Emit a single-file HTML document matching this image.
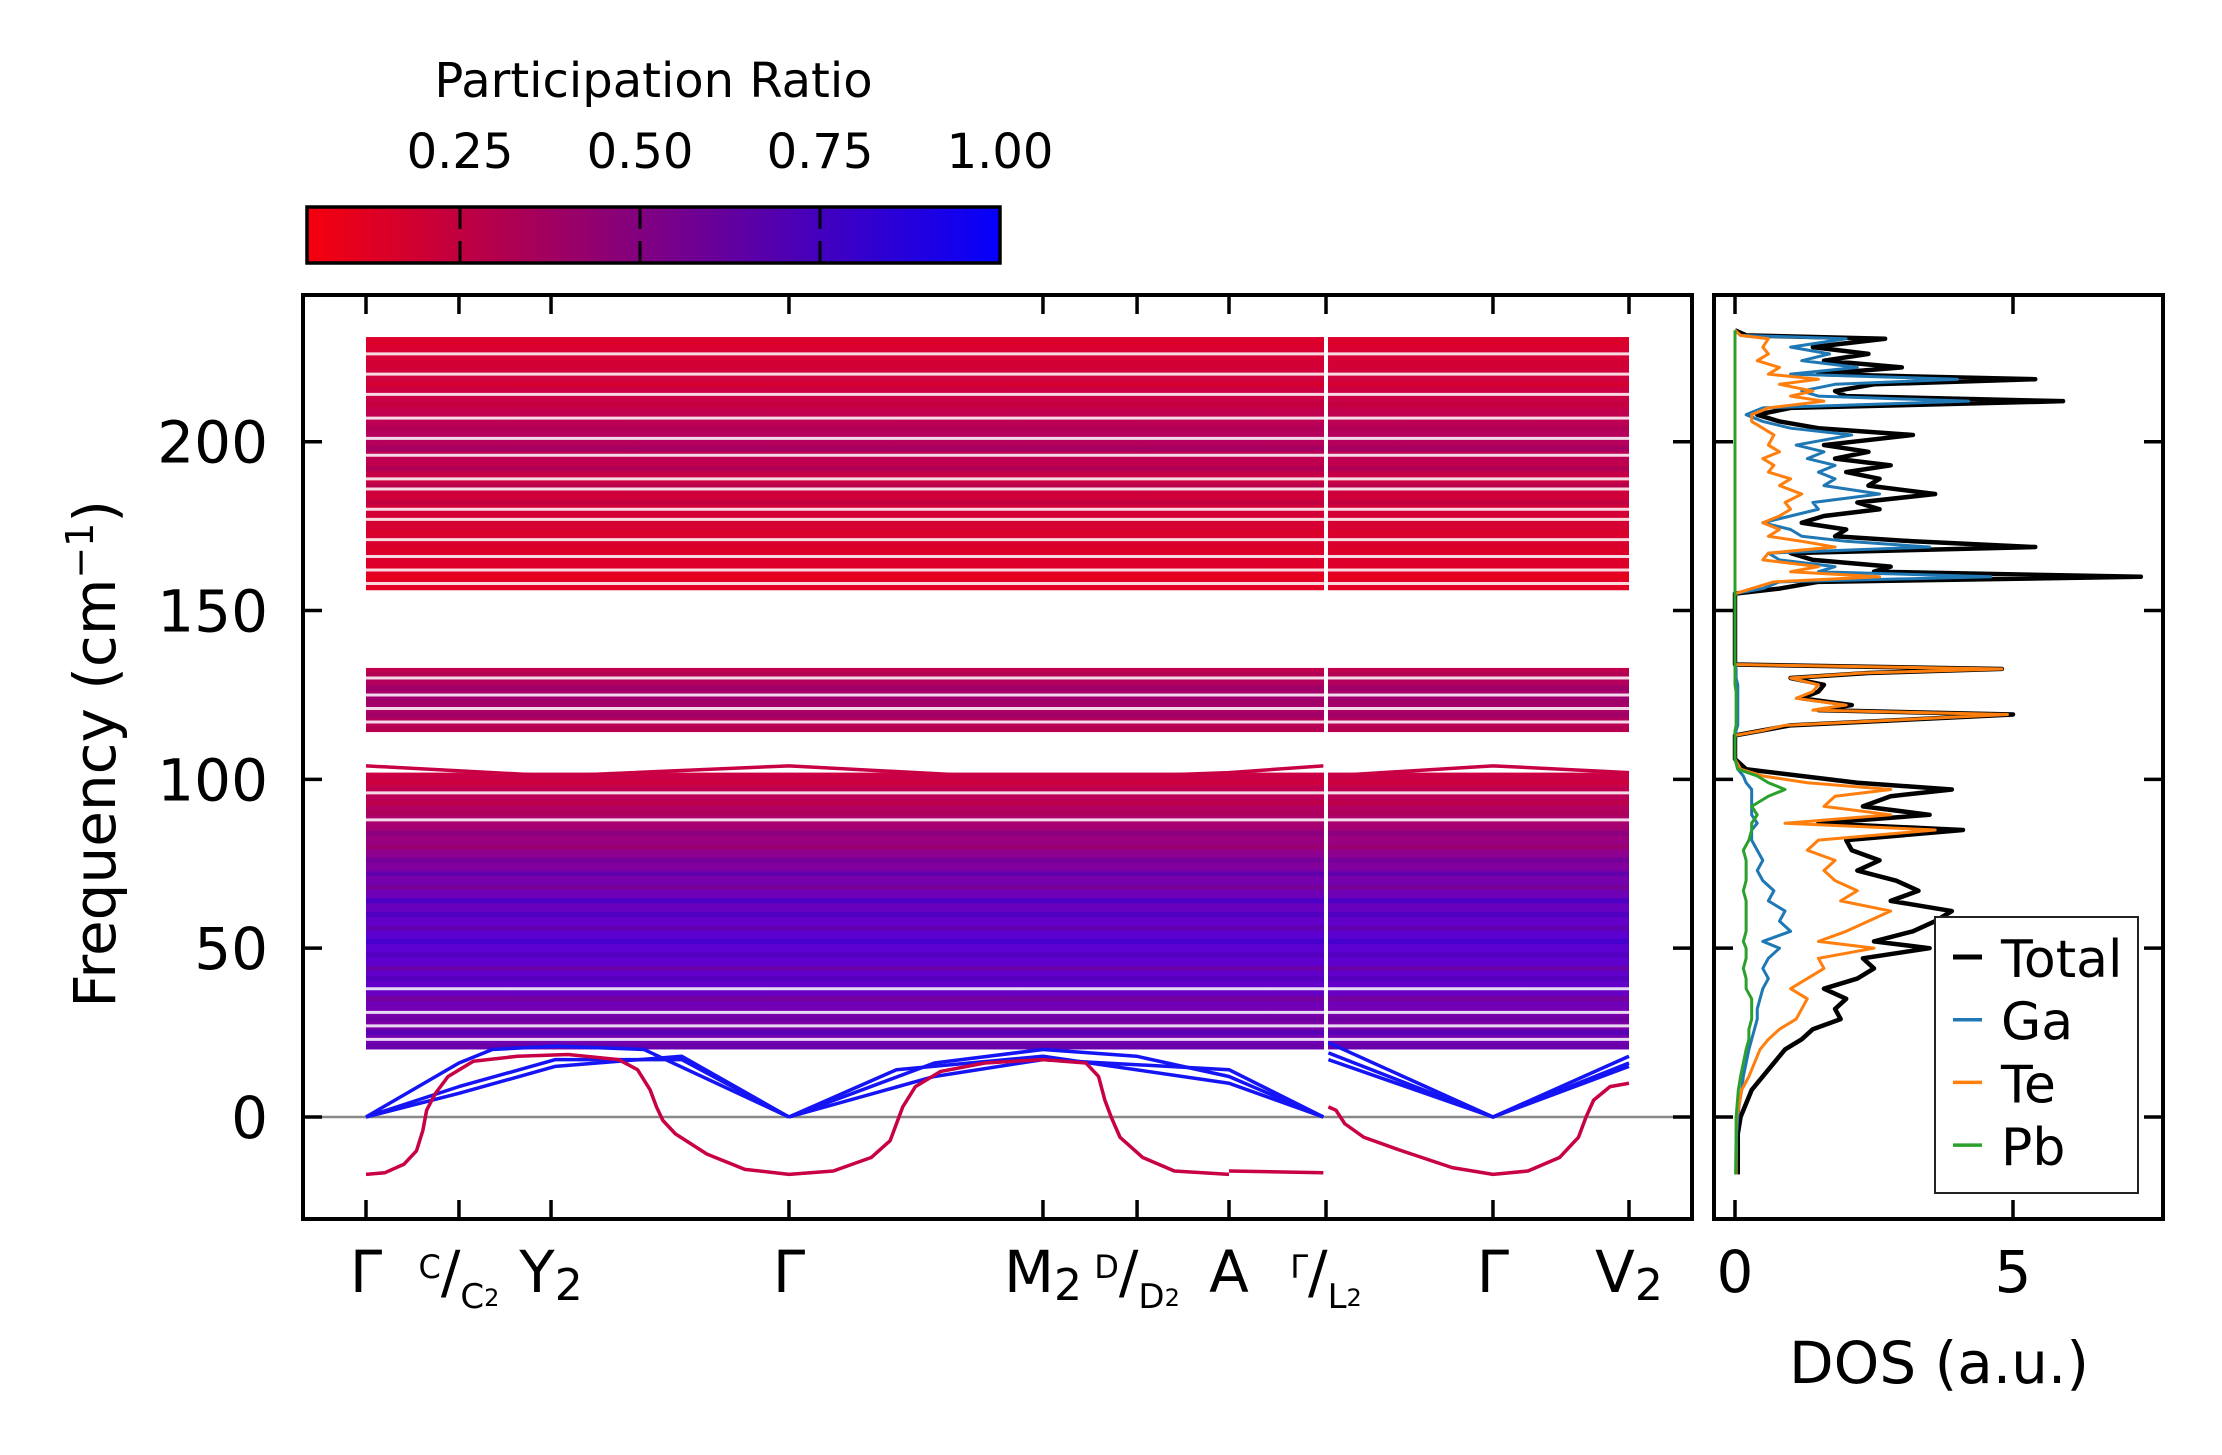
<!DOCTYPE html>
<html><head><meta charset="utf-8"><style>
body{margin:0;background:#fff}
svg{display:block;font-family:"DejaVu Sans","Liberation Sans",sans-serif}
</style></head><body>
<svg id="fig" width="2222" height="1455" viewBox="0 0 2222 1455" xmlns="http://www.w3.org/2000/svg">
<defs>
<linearGradient id="cmap" x1="0" x2="1" y1="0" y2="0"><stop offset="0" stop-color="rgb(245,0,12)"/><stop offset="1" stop-color="rgb(5,0,252)"/></linearGradient>
<linearGradient id="g1" x1="0" x2="0" y1="0" y2="1"><stop offset="0" stop-color="rgb(220,0,45)"/><stop offset="0.25" stop-color="rgb(200,0,70)"/><stop offset="0.4" stop-color="rgb(180,0,95)"/><stop offset="0.6" stop-color="rgb(205,0,60)"/><stop offset="1" stop-color="rgb(228,0,35)"/></linearGradient>
<linearGradient id="g2" x1="0" x2="0" y1="0" y2="1"><stop offset="0" stop-color="rgb(195,0,75)"/><stop offset="0.5" stop-color="rgb(160,0,115)"/><stop offset="1" stop-color="rgb(195,0,75)"/></linearGradient>
<linearGradient id="g3" x1="0" x2="0" y1="0" y2="1"><stop offset="0" stop-color="rgb(205,0,65)"/><stop offset="0.2" stop-color="rgb(165,0,115)"/><stop offset="0.4" stop-color="rgb(115,0,175)"/><stop offset="0.6" stop-color="rgb(90,0,210)"/><stop offset="0.78" stop-color="rgb(100,0,200)"/><stop offset="0.9" stop-color="rgb(125,0,165)"/><stop offset="1" stop-color="rgb(110,0,185)"/></linearGradient>
</defs>
<g id="bands"></g>
<g id="dos"></g>
<g id="axes"></g>
</svg>
<script>
const NS="http://www.w3.org/2000/svg";
// ---- data ----
const kLabels=["Γ","C/C2","Y2","Γ","M2","D/D2","A","Γ/L2","Γ","V2"];
const kTicks=[0,0.0736,0.1465,0.3349,0.536,0.6105,0.6833,0.7601,0.8923,1.0];
const yTicks=[0,50,100,150,200];
const blockLo=[156,114,20];
const blockHi=[231,133,102];
const gapLines=[226,220,214,207,201,196,189,186,180,177,171,166,162,158,130,125,121,117,96,88,38,31,27,23];
const stripeFreq=[229,223,217,211,204,198,192,187,182,173,168,160,131,127,123,119,115,99,93,90,84,80,76,72,68,64,60,56,52,48,44,41,35,29,25,21];
const stripePR=[0.1,0.15,0.1,0.2,0.3,0.4,0.35,0.3,0.25,0.1,0.1,0.05,0.3,0.4,0.35,0.4,0.3,0.15,0.2,0.3,0.5,0.35,0.6,0.7,0.5,0.8,0.75,0.6,0.8,0.7,0.55,0.7,0.5,0.6,0.75,0.6];
const softMode1=[[0,-17],[0.015,-16.5],[0.03,-14],[0.04,-10],[0.045,-4],[0.048,2],[0.055,7],[0.065,12],[0.085,16.5],[0.12,18],[0.16,18.5],[0.2,17],[0.215,14],[0.225,8],[0.23,3],[0.235,-1],[0.245,-5],[0.27,-11],[0.3,-15.5],[0.3349,-17],[0.37,-16],[0.4,-12],[0.415,-7],[0.42,-2],[0.425,3],[0.435,9],[0.455,13.5],[0.49,16],[0.536,17],[0.57,16],[0.58,12],[0.585,5],[0.59,0],[0.597,-6],[0.615,-12],[0.64,-16],[0.6833,-17]];
const softMode2=[[0.6833,-16],[0.758,-16.5]];
const softMode3=[[0.762,3],[0.768,2],[0.775,-2],[0.79,-6],[0.82,-10],[0.86,-15],[0.8923,-17],[0.92,-16],[0.945,-12],[0.96,-6],[0.966,0],[0.972,5],[0.985,9],[1,10]];
const topMode=[[0,104],[0.15,101],[0.3349,104],[0.536,100],[0.6833,102],[0.758,104]];
const topMode2=[[0.762,101],[0.8923,104],[1,102]];
const acoustic=[
 [[0,0],[0.0736,16],[0.1,20],[0.15,21],[0.22,20],[0.3349,0]],
 [[0,0],[0.0736,9],[0.15,17],[0.25,17],[0.3349,0]],
 [[0,0],[0.0736,7],[0.15,15],[0.25,18],[0.3349,0]],
 [[0.3349,0],[0.45,16],[0.536,20],[0.61,18],[0.6833,12],[0.758,0]],
 [[0.3349,0],[0.42,14],[0.536,18],[0.6833,10],[0.758,0]],
 [[0.3349,0],[0.45,12],[0.536,17],[0.6833,14],[0.758,0]],
 [[0.762,22],[0.8923,0],[1,18]],
 [[0.762,19],[0.8923,0],[1,15]],
 [[0.762,17],[0.8923,0],[1,16]]];
const dosFreq=[-17,-5,0,4,8,12,16,20,23,26,29,32,35,38,41,44,47,50,52,55,58,61,64,67,70,73,76,79,82,85,87,89.5,92,95,97,99,101,103,106,113,114.5,116,119.2,120.5,122,124,126,128,130,131.5,132.7,134,155,156.5,158.5,160,161.5,163,165,167,168.8,170.5,172,174,176,178,180,182,184.5,187,189,191,193,195,197,199,202,204,206,208,210,212,213.5,215,217,218.5,220,222,224,226,228,230.5,231.5,233];
const dosTotal=[0.05,0.05,0.1,0.2,0.3,0.5,0.7,0.9,1.2,1.4,1.9,1.8,2.0,1.6,2.2,2.5,2.3,3.5,2.5,3.2,3.6,3.9,2.8,3.3,2.9,2.2,2.6,2.1,2.0,4.1,1.5,3.5,2.3,2.8,3.9,2.2,1.2,0.2,0,0,0.5,1.0,5.0,1.5,2.1,1.2,1.5,1.6,1.0,2.4,4.8,0,0,0.8,1.5,7.3,2.5,2.8,1.4,1.0,5.4,3.2,1.8,2.0,1.2,1.6,2.6,2.2,3.6,2.4,2.6,2.0,2.8,1.8,2.4,1.6,3.2,1.5,0.8,0.4,1.0,5.9,2.0,1.8,2.5,5.4,1.5,3.0,1.6,2.4,1.4,2.7,0.2,0];
const dosGa=[0.02,0.03,0.05,0.08,0.12,0.15,0.2,0.25,0.3,0.35,0.4,0.4,0.45,0.5,0.6,0.5,0.6,0.8,0.5,1.0,0.8,0.9,0.6,0.7,0.5,0.4,0.5,0.4,0.3,0.3,0.4,0.3,0.3,0.3,0.3,0.2,0.15,0.05,0,0,0.02,0.05,0.05,0.05,0.05,0.05,0.05,0.05,0.02,0.02,0.02,0,0,0.5,0.8,4.6,1.5,1.8,0.8,0.6,3.5,2.0,1.2,1.0,0.5,1.0,1.5,1.4,2.6,1.6,1.8,1.5,1.8,1.3,1.6,1.1,2.1,1.0,0.5,0.2,0.5,4.2,1.5,1.2,1.8,4.0,1.0,2.2,1.2,1.7,1.0,2.0,0.1,0];
const dosTe=[0.02,0.02,0.03,0.08,0.12,0.25,0.35,0.45,0.6,0.8,1.1,1.2,1.3,1.0,1.3,1.6,1.5,2.5,1.5,2.0,2.4,2.8,1.9,2.2,1.8,1.6,1.8,1.3,1.5,3.6,0.9,2.8,1.6,1.8,2.8,1.3,0.5,0.1,0,0,0.5,0.9,4.9,1.4,2.0,1.1,1.4,1.5,1.0,2.3,4.8,0,0,0.3,0.7,2.6,1.0,1.5,0.5,0.6,1.8,1.2,0.6,0.8,0.5,0.8,1.0,0.9,1.2,0.8,1.0,0.6,0.7,0.5,0.8,0.6,0.7,0.5,0.3,0.3,0.6,1.6,1.0,1.4,0.8,1.5,0.6,0.8,0.4,0.6,0.5,0.6,0.1,0];
const dosPb=[0.01,0.02,0.02,0.04,0.06,0.1,0.15,0.2,0.25,0.25,0.3,0.3,0.3,0.2,0.2,0.15,0.2,0.2,0.15,0.2,0.2,0.2,0.2,0.15,0.2,0.2,0.2,0.15,0.25,0.3,0.3,0.4,0.3,0.6,0.9,0.6,0.4,0.05,0,0,0,0.02,0.02,0.02,0.02,0.02,0.02,0,0,0,0,0,0,0,0,0,0,0,0,0,0,0,0,0,0,0,0,0,0,0,0,0,0,0,0,0,0,0,0,0,0,0,0,0,0,0,0,0,0,0,0,0,0,0];
const legendNames=["Total","Ga","Te","Pb"];
const cbTicks=[0.25,0.5,0.75,1.0];
// ---- scales ----
const X=k=>366+k*1263, Y=f=>1117-f*3.3765, DX=d=>1735+d*55.6, CB=v=>460+(v-0.25)*720;
const prColor=v=>`rgb(${Math.round(245-240*v)},0,${Math.round(12+240*v)})`;
function el(tag,attrs,parent){const e=document.createElementNS(NS,tag);for(const a in attrs)e.setAttribute(a,attrs[a]);parent.appendChild(e);return e;}
const bands=document.getElementById('bands'),dos=document.getElementById('dos'),axes=document.getElementById('axes');
const grads=['url(#g1)','url(#g2)','url(#g3)'];
blockLo.forEach((lo,i)=>{const r=el('rect',{x:X(0),y:Y(blockHi[i]),width:X(1)-X(0),height:Y(lo)-Y(blockHi[i]),fill:grads[i]},bands);

});
stripeFreq.forEach((f,i)=>{const l=el('line',{x1:X(0),x2:X(1),y1:Y(f),y2:Y(f),stroke:prColor(stripePR[i]),'stroke-width':5,opacity:0.55},bands);

});
gapLines.forEach(f=>{const l=el('line',{x1:X(0),x2:X(1),y1:Y(f),y2:Y(f),stroke:'#fff','stroke-width':3,opacity:0.85},bands);

});
const br=el('rect',{x:X(0.7601)-2,y:Y(235),width:4,height:Y(-20)-Y(235),fill:'#fff'},bands);


const zl=el('line',{x1:303,x2:1692,y1:Y(0),y2:Y(0),stroke:'#888','stroke-width':2.5},bands);


function poly(pts,xf,yf,color,w,parent,name){const p=el('polyline',{points:pts.map(p=>xf(p[0])+','+yf(p[1])).join(' '),fill:'none',stroke:color,'stroke-width':w,'stroke-linejoin':'round'},parent);

return p;}
acoustic.forEach(a=>poly(a,X,Y,'rgb(20,20,245)',3.5,bands,'acoustic-branch'));
[softMode1,softMode2,softMode3].forEach(s=>poly(s,X,Y,'rgb(200,0,70)',3.5,bands,'soft-mode'));
[topMode,topMode2].forEach(s=>poly(s,X,Y,'rgb(200,0,70)',3.5,bands,'top-mode'));
// DOS
const dosSeries=[dosTotal,dosGa,dosTe,dosPb],dosColors=['#000','#1f77b4','#ff7f0e','#2ca02c'],dosW=[4.5,3,3,3];
dosSeries.forEach((s,i)=>{const pts=s.map((v,j)=>[v,dosFreq[j]]);poly(pts,DX,Y,dosColors[i],dosW[i],dos,'dos-'+legendNames[i].toLowerCase());});
// axes frames
function frame(x,y,w,h,name){const r=el('rect',{x,y,width:w,height:h,fill:'none',stroke:'#000','stroke-width':4},axes);

}
frame(303,295,1389,924,'band-axes-frame');frame(1714,295,449,924,'dos-axes-frame');
function tick(x1,y1,x2,y2){const t=el('line',{x1,y1,x2,y2,stroke:'#000','stroke-width':3.5},axes);

}
function txt(s,x,y,size,anchor,name){const t=el('text',{x,y,'font-size':size,'text-anchor':anchor,fill:'#000'},axes);t.textContent=s;

return t;}
yTicks.forEach(v=>{tick(303,Y(v),322,Y(v));tick(1673,Y(v),1692,Y(v));tick(1714,Y(v),1733,Y(v));tick(2144,Y(v),2163,Y(v));
txt(String(v),268,Y(v)+21,58,'end','y-tick-label');});
kTicks.forEach((k,i)=>{tick(X(k),295,X(k),314);tick(X(k),1200,X(k),1219);
const lab=kLabels[i];let t;
if(lab.includes('/')){const [a,b]=lab.split('/');t=txt('',X(k),1292,58,'middle','x-tick-label');
const s1=el('tspan',{'font-size':32,dy:-14},t);s1.textContent=a;
const s2=el('tspan',{dy:14},t);s2.textContent='/';
const s3=el('tspan',{'font-size':34,dy:16},t);s3.textContent=b[0];
const s4=el('tspan',{'font-size':24,dy:-2},t);s4.textContent=b[1];}
else if(lab.length==2){t=txt(lab[0],X(k),1292,58,'middle','x-tick-label');const s=el('tspan',{'font-size':44,dy:8},t);s.textContent=lab[1];}
else t=txt(lab,X(k),1292,58,'middle','x-tick-label');});
[0,5].forEach(v=>{tick(DX(v),295,DX(v),314);tick(DX(v),1200,DX(v),1219);txt(String(v),DX(v),1292,58,'middle','dos-tick-label');});
const yl=txt('Frequency (cm',0,0,58,'end','y-axis-title');yl.setAttribute('transform','translate(115,500) rotate(-90)');
const sup=el('tspan',{'font-size':38,dy:-22},yl);sup.textContent='−1';const cl=el('tspan',{dy:22},yl);cl.textContent=')';
txt('DOS (a.u.)',1939,1383,58,'middle','x-axis-title');
// legend
const lg=el('rect',{x:1935,y:917,width:203,height:276,fill:'#fff',stroke:'#222','stroke-width':2},axes);


legendNames.forEach((n,i)=>{const y=957+i*62.7;const l=el('line',{x1:1953,x2:1982,y1:y,y2:y,stroke:dosColors[i],'stroke-width':i==0?5:3.5},axes);


txt(n,2001,y+20,52,'start','legend-entry');});
// colorbar
const cb=el('rect',{x:CB(0.0375),y:207,width:CB(1)-CB(0.0375),height:56,fill:'url(#cmap)',stroke:'#000','stroke-width':3.5},axes);


cbTicks.forEach(v=>{if(v<1){const d=el('line',{x1:CB(v),x2:CB(v),y1:207,y2:263,stroke:'#000','stroke-width':3,'stroke-dasharray':'22,12'},axes);

}
txt(v.toFixed(2),CB(v),168,48,'middle','colorbar-tick-label');});
txt('Participation Ratio',CB(0.0375)+(CB(1)-CB(0.0375))/2,97,48,'middle','colorbar-title');
</script>
</body></html>
